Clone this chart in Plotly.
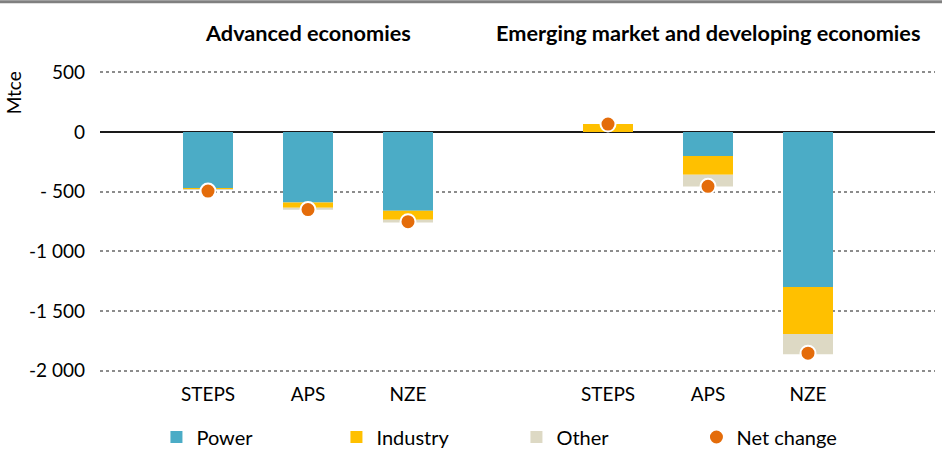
import plotly.graph_objects as go

# Scenario categories, drawn in two regional groups
scenarios = ["STEPS", "APS", "NZE", "STEPS", "APS", "NZE"]
positions = [1, 2, 3, 5, 6, 7]

# Change in coal demand by sector (Mtce)
power = [-470, -590, -660, 0, -200, -1300]
industry = [-8, -44, -75, 67, -158, -394]
other = [-6, -17, -23, 0, -98, -170]
net_change = [-495, -650, -752, 67, -455, -1855]

group_titles = ["Advanced economies", "Emerging market and developing economies"]
group_centres = [2, 6]

y_ticks = [500, 0, -500, -1000, -1500, -2000]
y_tick_text = ["500", "0", "- 500", "-1 000", "-1 500", "-2 000"]

FONT = "Lato"
fig = go.Figure()

for name, vals, col in [("Power", power, "#4BACC6"),
                        ("Industry", industry, "#FFC000"),
                        ("Other", other, "#DDD9C4")]:
    fig.add_trace(go.Bar(x=positions, y=vals, name=name, width=0.5,
                         marker=dict(color=col, line=dict(width=0))))

fig.add_trace(go.Scatter(x=positions, y=net_change, name="Net change", mode="markers",
                         marker=dict(color="#E46C0A", size=15,
                                     line=dict(color="white", width=2))))

for title, cx in zip(group_titles, group_centres):
    fig.add_annotation(x=cx, xref="x", y=1.067, yref="paper", yanchor="middle",
                       text=f"<b>{title}</b>", showarrow=False,
                       font=dict(family=FONT, size=21.7, color="#000"))

fig.add_annotation(x=-0.104, xref="paper", y=0.883, yref="paper",
                   text="Mtce", textangle=-90, showarrow=False,
                   xanchor="center", yanchor="middle",
                   font=dict(family=FONT, size=19, color="#000"))

# thin grey rule along the top edge
fig.add_shape(type="line", xref="paper", yref="paper", x0=-0.2, x1=1.1,
              y0=1.163, y1=1.163, line=dict(color="#808080", width=3))

fig.update_layout(
    width=942, height=451,
    margin=dict(l=100, r=7, t=55, b=70),
    barmode="relative",
    plot_bgcolor="white", paper_bgcolor="white",
    font=dict(family=FONT, size=19, color="#000"),
    showlegend=True,
    legend=dict(orientation="h", x=0.0676, xanchor="left",
                yref="container", y=(451 - 437) / 451, yanchor="middle",
                font=dict(family=FONT, size=20, color="#000"),
                entrywidth=135, entrywidthmode="pixels",
                itemwidth=30, traceorder="normal"),
    xaxis=dict(range=[-0.08, 8.27], tickvals=positions, ticktext=scenarios,
               showgrid=False, zeroline=False, showline=False, ticks="",
               tickfont=dict(family=FONT, size=19, color="#000")),
    yaxis=dict(range=[-2088, 646], tickvals=y_ticks, ticktext=y_tick_text,
               showgrid=True, gridcolor="#8c8c8c", griddash="dot", gridwidth=2,
               zeroline=True, zerolinecolor="#1a1a1a", zerolinewidth=2,
               showline=False, ticks="", ticklabelstandoff=14,
               tickfont=dict(family=FONT, size=19, color="#000")),
)

fig.write_html("out.html")
